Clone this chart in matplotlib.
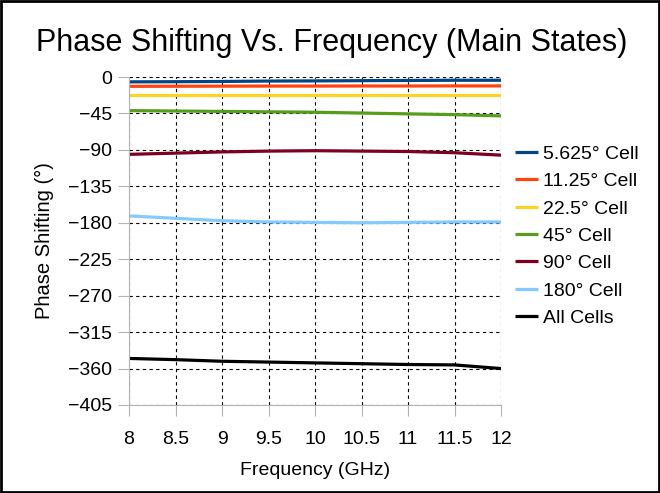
import matplotlib.pyplot as plt
from matplotlib.patches import Rectangle

plt.rcParams['font.family'] = ['Liberation Sans', 'DejaVu Sans']

# Frequency points (GHz)
freq = [8, 8.5, 9, 9.5, 10, 10.5, 11, 11.5, 12]

# Phase shifting (deg) per cell state
cell_5625 = [-6, -5.8, -5.5, -5, -4.8, -4.5, -4.3, -4, -4]
cell_1125 = [-11.5, -11.4, -11.3, -11.2, -11.2, -11.1, -11.1, -11, -11]
cell_225 = [-22, -22, -22, -22, -22, -22, -22, -22, -22]
cell_45 = [-41.5, -42, -42.5, -43, -43.5, -44.5, -45.5, -46.5, -48]
cell_90 = [-95.5, -94, -92.5, -91.5, -91, -91.5, -92, -93.5, -96.5]
cell_180 = [-171.5, -174.5, -177.5, -179, -179.5, -180, -179.5, -179, -179]
all_cells = [-347.5, -349, -351, -352, -353, -354, -355, -355.5, -360]

labels = ['5.625° Cell', '11.25° Cell', '22.5° Cell', '45° Cell',
          '90° Cell', '180° Cell', 'All Cells']
colors = ['#004586', '#ff420e', '#ffd320', '#579d1c',
          '#7e0021', '#83caff', '#000000']
series = [cell_5625, cell_1125, cell_225, cell_45, cell_90, cell_180, all_cells]

fig = plt.figure(figsize=(6.6, 4.93), dpi=100)
ax = fig.add_axes([0.1955, 0.1785, 0.5636, 0.6653])

for vals, lab, col in zip(series, labels, colors):
    ax.plot(freq, vals, color=col, lw=2.3, label=lab, solid_capstyle='butt')

ax.set_xlim(8, 12)
ax.set_ylim(-405, 0)
ax.set_xticks([8, 8.5, 9, 9.5, 10, 10.5, 11, 11.5, 12])
ax.set_xticklabels(['8', '8.5', '9', '9.5', '10', '10.5', '11', '11.5', '12'])
ax.set_yticks(list(range(0, -406, -45)))

ax.grid(True, color='black', linestyle=(0, (3, 3)), linewidth=0.8)
ax.set_axisbelow(True)
for side in ['top', 'right']:
    ax.spines[side].set_visible(False)
for side in ['left', 'bottom']:
    ax.spines[side].set_color('#b3b3b3')
ax.tick_params(axis='both', direction='out', length=8, color='#b3b3b3',
               labelsize=14, pad=4)
ax.tick_params(axis='x', pad=11)

ax.set_xlabel('Frequency (GHz)', fontsize=14, labelpad=10)
ax.set_ylabel('Phase Shifting (°)', fontsize=14.5, labelpad=10)
fig.suptitle('Phase Shifting Vs. Frequency (Main States)', fontsize=22,
             x=0.502, y=0.913, va='center')

ax.legend(loc='center left', bbox_to_anchor=(1.0, 0.515), frameon=False,
          fontsize=14, handlelength=1.2, handletextpad=0.25, labelspacing=0.5,
          borderaxespad=0.3)

fig.patches.append(Rectangle((0.002, 0.002), 0.996, 0.996, transform=fig.transFigure,
                             fill=False, edgecolor='black', linewidth=2))

fig.savefig('out.png', dpi=100)
